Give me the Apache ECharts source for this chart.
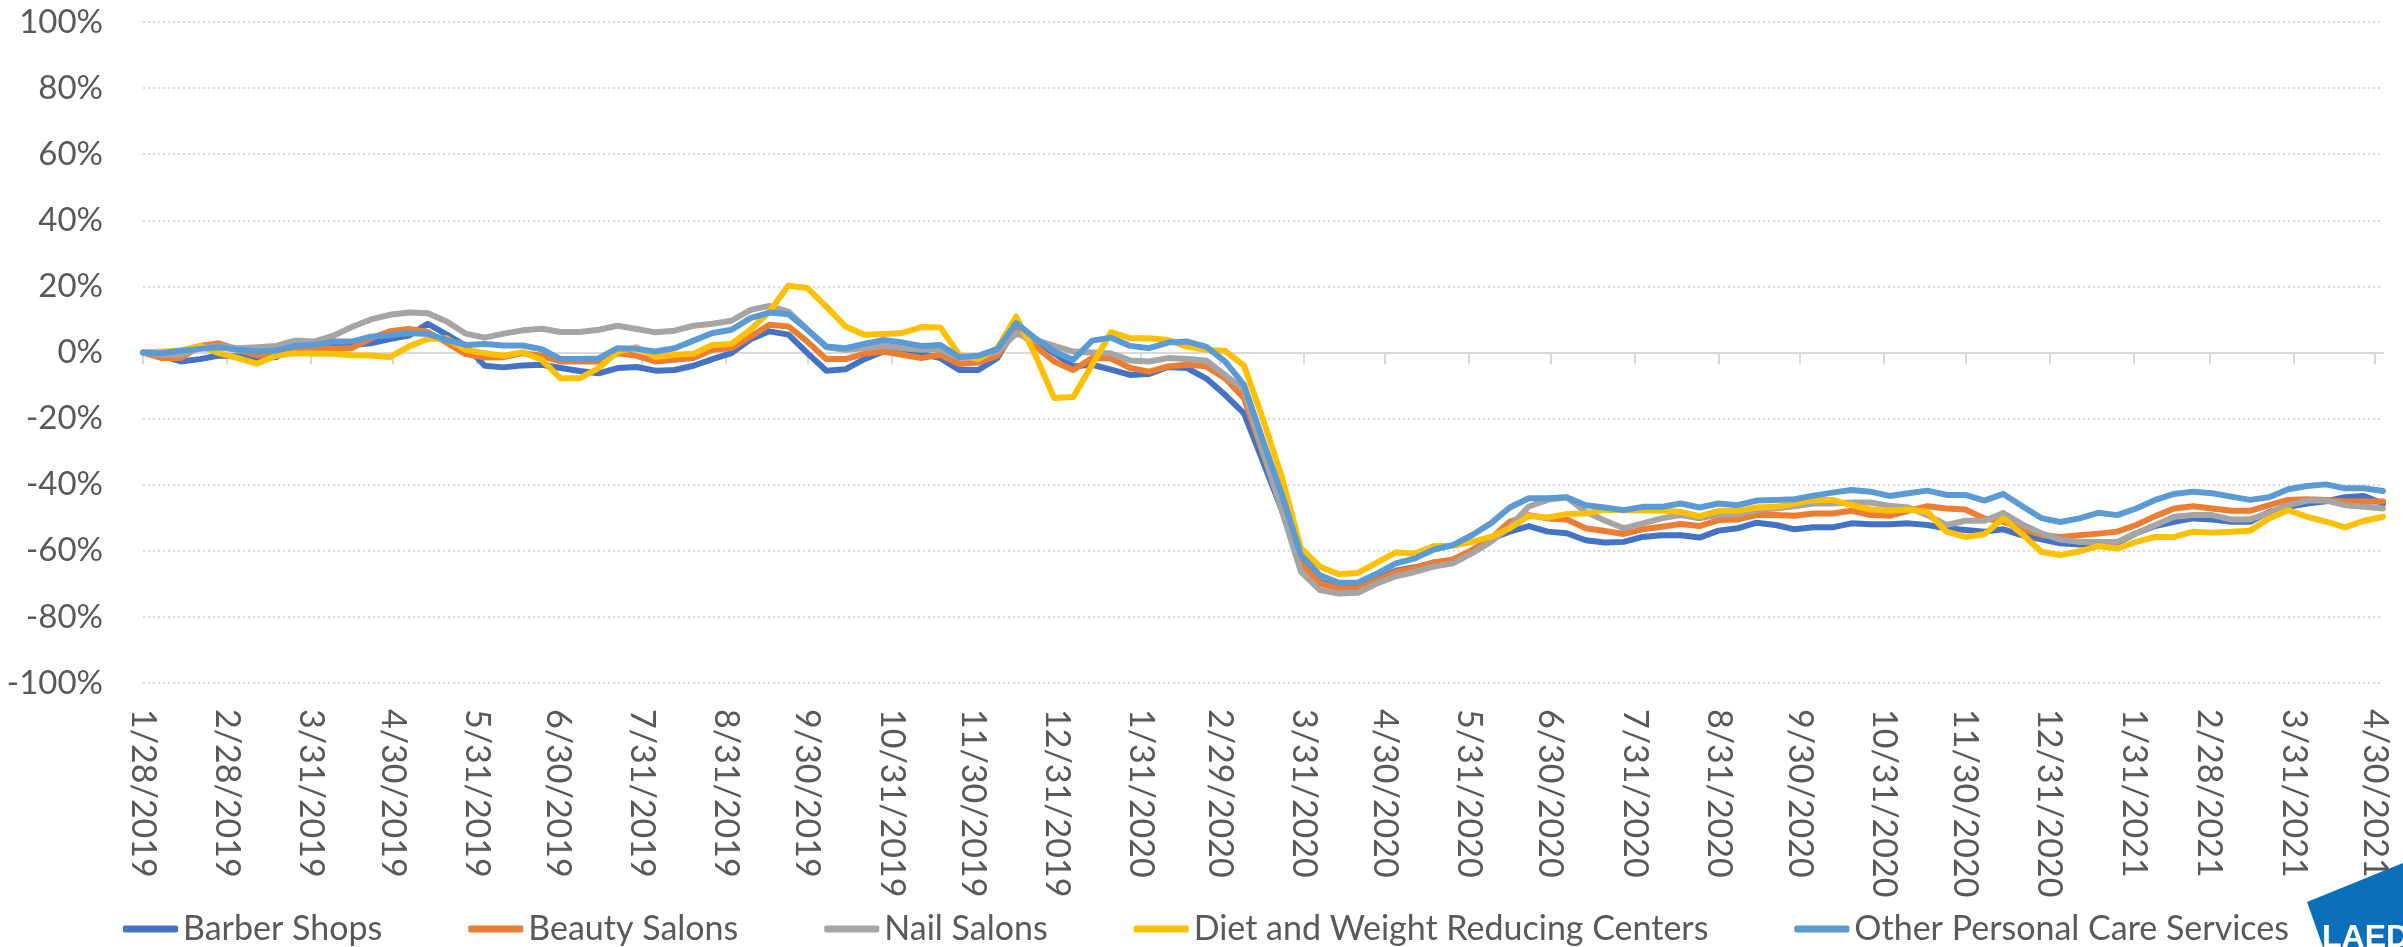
<!DOCTYPE html>
<html>
<head>
<meta charset="utf-8">
<title>Personal care services, change vs. prior year</title>
<script src="https://cdn.jsdelivr.net/npm/echarts@6/dist/echarts.min.js"></script>
<style>
html, body { margin: 0; padding: 0; background: #fff; }
#chart { width: 2403px; height: 947px; }
</style>
</head>
<body>
<div id="chart"></div>
<script>
// weekly observations, first one on 1/28/2019
var firstWeek = [2019, 1, 28];
var weekCount = 119;
var axisEnd = [2021, 5, 3];

var tickLabels = ['1/28/2019', '2/28/2019', '3/31/2019', '4/30/2019', '5/31/2019', '6/30/2019',
    '7/31/2019', '8/31/2019', '9/30/2019', '10/31/2019', '11/30/2019', '12/31/2019',
    '1/31/2020', '2/29/2020', '3/31/2020', '4/30/2020', '5/31/2020', '6/30/2020',
    '7/31/2020', '8/31/2020', '9/30/2020', '10/31/2020', '11/30/2020', '12/31/2020',
    '1/31/2021', '2/28/2021', '3/31/2021', '4/30/2021'];

var seriesNames = ['Barber Shops', 'Beauty Salons', 'Nail Salons',
    'Diet and Weight Reducing Centers', 'Other Personal Care Services'];
var seriesColors = ['#4472C4', '#ED7D31', '#A5A5A5', '#FFC000', '#5B9BD5'];

// % change, one value per week
var barberShops = [
    0, -1, -2.7, -2, -0.9, -1.2, -2, -1.4, 1.6, 2,
    2.3, 2.3, 2.8, 4.1, 5.1, 8.7, 5.4, 2, -4, -4.5,
    -3.9, -3.7, -4.7, -5.6, -6.3, -4.7, -4.4, -5.5, -5.3, -4,
    -2, -0.2, 4, 6.4, 5.4, -0.2, -5.5, -5.1, -2, 0.3,
    0.3, -0.4, -1.7, -5.3, -5.3, -1.7, 7.9, 3.6, -0.2, -4.2,
    -3.7, -5.2, -6.8, -6.5, -4.4, -4.7, -7.8, -12.8, -18.4, -33,
    -47.8, -62.8, -69.5, -71, -71, -68.5, -66, -65, -63.5, -62.8,
    -60.2, -56.3, -54.2, -52.5, -54.2, -54.7, -56.8, -57.5, -57.3, -55.8,
    -55.3, -55.3, -56, -53.9, -53.2, -51.5, -52.2, -53.5, -52.9, -52.9,
    -51.7, -52, -52, -51.7, -52.2, -53.2, -53.7, -54.2, -53.5, -55.3,
    -56.5, -57.7, -58.1, -58, -57.6, -54.7, -52.5, -51.2, -50.2, -50.5,
    -51.2, -51.2, -48.2, -46.7, -45.7, -45, -43.8, -43.4, -45.7
];
var beautySalons = [
    0, -1.7, -1.7, 2, 2.8, 0.8, -0.9, -0.7, 1.1, 1.5,
    1.1, 1.3, 4.3, 6.4, 7.1, 6.2, 3, -0.5, -1.5, -1.4,
    -0.2, -1, -2.7, -2.7, -2.7, -0.2, -1, -2.7, -2.2, -1.7,
    0.8, 1.3, 4.8, 8.4, 7.9, 3.3, -2, -2, -0.4, 0.3,
    -0.7, -1.7, -0.7, -3.5, -3, -1, 6.9, 2, -2.7, -5.3,
    -1.7, -1.8, -4.7, -5.8, -4.2, -3.7, -4.2, -7.8, -13.8, -30.5,
    -46.6, -63.8, -69.9, -71.4, -71.4, -68.9, -66.4, -65.2, -63.6, -62.6,
    -59.8, -56.3, -51.2, -49.2, -50.2, -50.5, -53.2, -54, -54.9, -53.5,
    -52.7, -51.9, -52.5, -50.7, -50.5, -49.2, -49.2, -49.4, -48.7, -48.7,
    -47.9, -49.2, -49.4, -47.9, -46.5, -47.2, -47.5, -50.2, -51.2, -53.4,
    -55.2, -55.8, -55.3, -54.8, -54.2, -52.2, -49.5, -47.2, -46.5, -47.2,
    -47.9, -47.9, -46.2, -44.6, -44.4, -44.6, -45.1, -45.1, -45.1
];
var nailSalons = [
    0, -0.7, -0.7, 1.3, 2, 1.3, 1.6, 2, 3.6, 3.3,
    5, 7.7, 10, 11.4, 12.1, 11.9, 9.4, 5.7, 4.5, 5.7,
    6.7, 7.2, 6.2, 6.2, 6.9, 8.1, 7.1, 6.1, 6.6, 8.1,
    8.7, 9.6, 12.9, 14.1, 12.4, 6.9, 1.6, 0.8, 1.3, 2,
    1.3, 0.8, 1, -1.7, -1.2, 0.3, 5.7, 3.8, 2, 0.3,
    0, -0.3, -2.4, -2.7, -1.7, -2, -2.4, -6.8, -11.3, -30,
    -48, -66.4, -71.9, -72.9, -72.7, -69.9, -67.7, -66.4, -64.8, -63.8,
    -60.8, -57.3, -52.7, -46.6, -44.6, -43.8, -48.2, -50.8, -53.2, -51.7,
    -50.2, -49.2, -50.2, -49, -49, -47.7, -47.2, -46.5, -45.7, -45.7,
    -45.4, -45.4, -46.4, -46.9, -49.2, -52.2, -50.9, -50.9, -48.6, -52,
    -54.7, -56.6, -57.3, -57.3, -57.3, -54.7, -52.2, -49.7, -49.2, -49.2,
    -50.5, -50.5, -48.5, -46.2, -44.8, -44.8, -46.2, -46.7, -47.2
];
var dietCenters = [
    0, 0.3, 0.6, 2, -0.2, -1.7, -3.4, -1, -0.2, -0.4,
    -0.4, -0.8, -0.9, -1.4, 1.8, 4.1, 4.3, 0.8, -0.2, -1,
    0.1, -2.2, -7.8, -7.8, -4.7, 0.1, 1.6, -1.4, -0.7, -0.4,
    2.3, 2.6, 6.9, 12.4, 20.2, 19.5, 13.9, 7.9, 5.4, 5.6,
    5.9, 7.7, 7.6, -0.7, -2, 1.3, 10.9, -0.7, -13.8, -13.5,
    -3.7, 6.2, 4.3, 4.3, 3.8, 1.8, 0.8, 0.5, -4, -20.2,
    -37.8, -59.3, -64.8, -67.1, -66.7, -63.6, -60.5, -60.8, -58.6, -58.5,
    -57.3, -55.8, -53.2, -49.5, -49.9, -48.9, -48.7, -47.6, -47.7, -47.7,
    -47.9, -48.2, -49.5, -47.9, -47.9, -46.9, -46.7, -45.7, -44.6, -44.6,
    -46.2, -47.5, -47.9, -47.5, -48.2, -54.2, -55.8, -55, -50.2, -55,
    -60.3, -61.3, -60.2, -58.6, -59.3, -57.3, -55.8, -55.8, -54.2, -54.5,
    -54.2, -53.9, -50.2, -47.7, -49.7, -51.2, -52.9, -50.9, -49.7
];
var otherServices = [
    0, -0.2, 0.5, 1.1, 1.6, 0.8, 0.3, 0.5, 2, 2.3,
    3.3, 3.3, 4.8, 5.2, 5.9, 5.6, 3.8, 2.3, 2.6, 2.1,
    2.1, 1, -2, -2, -1.8, 1.3, 1.1, 0.3, 1.3, 3.6,
    5.9, 6.9, 10.4, 12.1, 11.6, 6.9, 1.8, 1.3, 2.6, 3.8,
    3, 2, 2.3, -1.4, -1, 1, 8.9, 4.3, 0.3, -2.2,
    3.6, 4.5, 2, 1.3, 3, 3.3, 1.8, -2.7, -9.8, -26.7,
    -43.1, -61.3, -67.4, -69.7, -69.6, -66.9, -63.8, -62.3, -59.6, -58.3,
    -55.3, -51.7, -46.9, -44.1, -44.1, -43.8, -46.2, -46.9, -47.7, -46.7,
    -46.7, -45.7, -46.9, -45.7, -46.2, -44.8, -44.6, -44.4, -43.3, -42.4,
    -41.6, -42.1, -43.4, -42.6, -41.8, -43.1, -43.1, -44.8, -42.8, -46.5,
    -50.1, -51.3, -50.2, -48.5, -49.2, -47.2, -44.6, -42.8, -42.1, -42.6,
    -43.6, -44.6, -43.8, -41.4, -40.4, -39.9, -41.1, -41.1, -41.9
];
var seriesValues = [barberShops, beautySalons, nailSalons, dietCenters, otherServices];

function toTime(y, m, d) { return new Date(y, m - 1, d).getTime(); }
function parseLabel(s) { var p = s.split('/'); return toTime(+p[2], +p[0], +p[1]); }
function fmtDate(v) {
    var d = new Date(v);
    return (d.getMonth() + 1) + '/' + d.getDate() + '/' + d.getFullYear();
}

var weeks = [];
for (var i = 0; i < weekCount; i++) {
    weeks.push(toTime(firstWeek[0], firstWeek[1], firstWeek[2] + 7 * i));
}
var tickTimes = tickLabels.map(parseLabel);
var xMin = weeks[0];
var xMax = toTime(axisEnd[0], axisEnd[1], axisEnd[2]);

var txt = '#595959';
var font = 'Lato';

var series = seriesNames.map(function (name, s) {
    return {
        name: name,
        type: 'line',
        xAxisIndex: 0,
        symbol: 'none',
        animation: false,
        lineStyle: { width: 6, color: seriesColors[s], cap: 'round', join: 'round' },
        itemStyle: { color: seriesColors[s] },
        data: weeks.map(function (t, k) { return [t, seriesValues[s][k]]; })
    };
});

var myChart = echarts.init(document.getElementById('chart'));
var option = {
    backgroundColor: '#fff',
    animation: false,
    grid: { left: 143, right: 20, top: 22, bottom: 264, outerBoundsMode: 'none' },
    legend: {
        data: seriesNames,
        left: 118,
        top: 907,
        icon: 'roundRect',
        itemWidth: 55,
        itemHeight: 7,
        itemGap: 86,
        textStyle: { color: txt, fontFamily: font, fontSize: 34 }
    },
    xAxis: [
        {
            type: 'value',
            min: xMin,
            max: xMax,
            axisLine: { show: true, onZero: true, lineStyle: { color: '#D9D9D9', width: 2 } },
            axisTick: { show: true, customValues: tickTimes, length: 12, lineStyle: { color: '#D9D9D9', width: 2 } },
            axisLabel: { show: false },
            splitLine: { show: false }
        },
        {
            type: 'value',
            position: 'bottom',
            min: xMin,
            max: xMax,
            axisLine: { show: false, onZero: false },
            axisTick: { show: false },
            splitLine: { show: false },
            axisLabel: {
                customValues: tickTimes,
                rotate: -90,
                margin: 26,
                color: txt,
                fontFamily: font,
                fontSize: 34,
                formatter: fmtDate
            }
        }
    ],
    yAxis: {
        type: 'value',
        min: -100,
        max: 100,
        interval: 20,
        axisLine: { show: false },
        axisTick: { show: false },
        axisLabel: { formatter: '{value}%', color: txt, fontFamily: font, fontSize: 33, margin: 40 },
        splitLine: { lineStyle: { color: '#D9D9D9', width: 2, type: [2, 3] } }
    },
    graphic: [
        {
            type: 'polygon',
            shape: { points: [[2307, 902], [2403, 863], [2403, 947], [2323, 947]] },
            style: { fill: '#0B6FBA' }
        },
        {
            type: 'text',
            left: 2322,
            top: 922,
            style: { text: 'LAEDC', fill: '#fff', font: 'bold 32px "Liberation Sans"' }
        }
    ],
    series: series
};
myChart.setOption(option);
</script>
</body>
</html>
